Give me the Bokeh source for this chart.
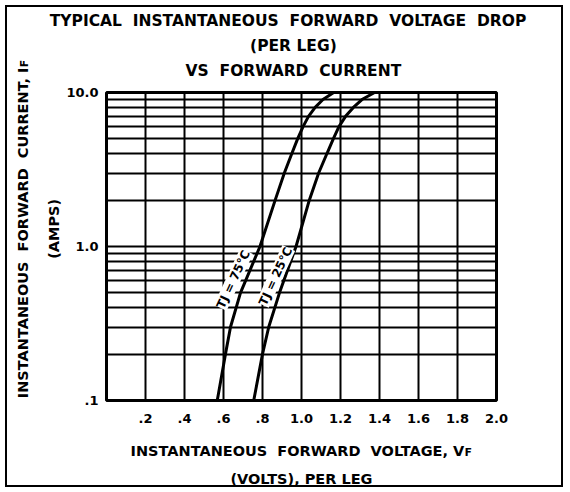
import math
from bokeh.plotting import figure
from bokeh.models import FixedTicker, Label, Title
from bokeh.embed import file_html
from bokeh.resources import INLINE

# ---- data ----
current_a = [0.1, 0.2, 0.3, 0.5, 1.0, 2.0, 3.0, 4.0, 5.0, 6.0, 7.0, 8.0, 9.0, 10.0]
volt_75c = [0.568, 0.610, 0.636, 0.687, 0.787, 0.865, 0.912, 0.950, 0.980, 1.008, 1.036, 1.070, 1.110, 1.165]
volt_25c = [0.755, 0.800, 0.832, 0.887, 0.972, 1.040, 1.088, 1.130, 1.163, 1.192, 1.226, 1.266, 1.310, 1.375]

x_ticks = [0.2, 0.4, 0.6, 0.8, 1.0, 1.2, 1.4, 1.6, 1.8, 2.0]
x_tick_labels = [".2", ".4", ".6", ".8", "1.0", "1.2", "1.4", "1.6", "1.8", "2.0"]
y_ticks = [0.1, 1.0, 10.0]
y_tick_labels = [".1", "1.0", "10.0"]
y_grid = [0.2, 0.3, 0.4, 0.5, 0.6, 0.7, 0.8, 0.9, 1.0, 2, 3, 4, 5, 6, 7, 8, 9]
x_grid = [0.2, 0.4, 0.6, 0.8, 1.0, 1.2, 1.4, 1.6, 1.8]

SP = "\u00a0"  # non-collapsing space (SVG text collapses runs of plain spaces)
title_lines = ["TYPICAL" + SP * 2 + "INSTANTANEOUS" + SP * 2 + "FORWARD" + SP * 2 + "VOLTAGE" + SP * 2 + "DROP" + SP * 5,
               "(PER LEG)" + SP * 3,
               "VS" + SP * 2 + "FORWARD" + SP * 2 + "CURRENT" + SP * 3]
x_title = ("INSTANTANEOUS" + SP * 2 + "FORWARD" + SP * 2 + "VOLTAGE, Vꜰ\n"
           "(VOLTS), PER LEG")
y_title = (SP * 7 + "INSTANTANEOUS" + SP * 2 + "FORWARD" + SP * 2 + "CURRENT, Iꜰ\n"
           + SP * 7 + "(AMPS)")
curve_labels = ["TJ = 75°C", "TJ = 25°C"]

FONT = "DejaVu Sans"

p = figure(width=558, height=482, output_backend="svg", toolbar_location=None,
           x_range=(0, 2.0), y_range=(0.1, 10.0), y_axis_type="log",
           min_border_left=99, min_border_right=69, min_border_top=85, min_border_bottom=87)
p.styles = {"border": "2px solid black", "margin": "5px"}

p.outline_line_color = "black"
p.outline_line_width = 3
p.background_fill_color = "white"
p.border_fill_color = "white"

p.xgrid.ticker = FixedTicker(ticks=x_grid)
p.ygrid.ticker = FixedTicker(ticks=y_grid)
for g in (p.xgrid, p.ygrid):
    g.grid_line_color = "black"
    g.grid_line_width = 2
    g.grid_line_alpha = 1.0

p.xaxis.ticker = FixedTicker(ticks=x_ticks)
p.xaxis.major_label_overrides = dict(zip(x_ticks, x_tick_labels))
p.yaxis.ticker = FixedTicker(ticks=y_ticks)
p.yaxis.major_label_overrides = dict(zip(y_ticks, y_tick_labels))
for ax in (p.xaxis, p.yaxis):
    ax.axis_line_color = None
    ax.major_tick_line_color = None
    ax.minor_tick_line_color = None
    ax.major_tick_out = 0
    ax.major_tick_in = 0
    ax.major_label_text_font = FONT
    ax.major_label_text_font_style = "bold"
    ax.major_label_text_font_size = "13px"
    ax.major_label_text_color = "black"
    ax.axis_label_text_font = FONT
    ax.axis_label_text_font_style = "bold"
    ax.axis_label_text_font_size = "14.5px"
    ax.axis_label_text_color = "black"
p.xaxis.major_label_standoff = 13
p.yaxis.major_label_standoff = 8
p.xaxis.axis_label = x_title
p.xaxis.axis_label_standoff = 17
p.xaxis.axis_label_text_line_height = 1.75
p.yaxis.axis_label = y_title
p.yaxis.axis_label_standoff = 1
p.yaxis.axis_label_text_line_height = 1.95

# spacer between the frame and the title block
p.add_layout(Title(text=SP, text_font_size="1px", standoff=7), "above")
# title lines, nearest the frame first
for txt in reversed(title_lines):
    p.add_layout(Title(text=txt, align="center", offset=0, standoff=5,
                       text_font=FONT, text_font_style="bold", text_font_size="15.5px",
                       text_color="black"), "above")

p.line(volt_75c, current_a, line_color="black", line_width=3)
p.line(volt_25c, current_a, line_color="black", line_width=3)

# curve labels (data positions next to each curve)
ang = math.radians(65)
for txt, lx, ly in zip(curve_labels, [0.651, 0.867], [0.612, 0.64]):
    p.add_layout(Label(x=lx, y=ly, text=txt, text_font=FONT, text_font_style="bold",
                       text_font_size="12px", text_color="black", text_align="center",
                       text_baseline="middle", angle=ang,
                       background_fill_color="white", background_fill_alpha=1.0))

open("out.html", "w").write(file_html(p, INLINE))
